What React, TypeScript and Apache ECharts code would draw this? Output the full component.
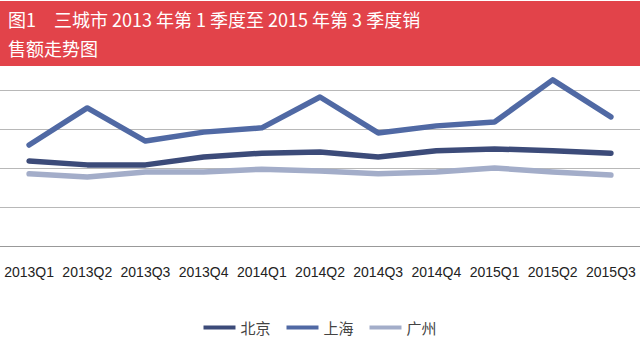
import React, { useEffect, useRef } from "react";
import * as echarts from "echarts";

const categories = ["2013Q1", "2013Q2", "2013Q3", "2013Q4", "2014Q1", "2014Q2", "2014Q3", "2014Q4", "2015Q1", "2015Q2", "2015Q3"];
const beijing = [2.18, 2.08, 2.08, 2.28, 2.38, 2.41, 2.28, 2.44, 2.49, 2.44, 2.38];
const shanghai = [2.59, 3.54, 2.69, 2.92, 3.03, 3.82, 2.9, 3.08, 3.18, 4.26, 3.31];
const guangzhou = [1.85, 1.77, 1.9, 1.9, 1.97, 1.92, 1.85, 1.9, 2.0, 1.9, 1.82];
const seriesNames = ["北京", "上海", "广州"];
const titleLine1 = "图1　三城市 2013 年第 1 季度至 2015 年第 3 季度销";
const titleLine2 = "售额走势图";

const colors = ["#3c4b79", "#5069a4", "#a3adc9"];

export default function App() {
  const ref = useRef<HTMLDivElement>(null);
  useEffect(() => {
    const chart = echarts.init(ref.current!, null, { renderer: "svg" });
    const data = [beijing, shanghai, guangzhou];
    chart.setOption({
      animation: false,
      backgroundColor: "#ffffff",
      grid: { left: 0, right: 0, top: 51, bottom: 108, containLabel: false },
      legend: {
        bottom: 14,
        left: "center",
        icon: "rect",
        itemWidth: 32,
        itemHeight: 4,
        itemGap: 16,
        textStyle: { fontSize: 15, color: "#444", fontFamily: "Noto Sans CJK SC" },
        data: seriesNames,
      },
      xAxis: {
        type: "category",
        data: categories,
        boundaryGap: true,
        axisTick: { show: false },
        axisLine: { lineStyle: { color: "#999", width: 1 } },
        axisLabel: { fontSize: 14, color: "#222", fontFamily: "Liberation Sans", margin: 19, interval: 0 },
      },
      yAxis: {
        type: "value",
        min: 0,
        max: 5,
        interval: 1,
        axisLabel: { show: false },
        axisLine: { show: false },
        axisTick: { show: false },
        splitLine: { lineStyle: { color: "#b8b8b8", width: 1 } },
      },
      series: seriesNames.map((n, i) => ({
        name: n,
        type: "line",
        data: data[i],
        showSymbol: false,
        symbol: "none",
        clip: false,
        lineStyle: { width: 5.5, color: colors[i], cap: "round", join: "round" },
        itemStyle: { color: colors[i] },
        z: 3 - i,
      })),
      graphic: [
        {
          type: "rect",
          z: 100,
          shape: { x: 0, y: 1, width: 640, height: 65 },
          style: { fill: "#e2434a" },
        },
        {
          type: "text",
          z: 101,
          x: 8,
          y: 19,
          style: {
            text: titleLine1,
            fill: "#ffffff",
            fontSize: 18,
            fontFamily: "Noto Sans CJK SC",
            verticalAlign: "middle",
          },
        },
        {
          type: "text",
          z: 101,
          x: 8,
          y: 48,
          style: {
            text: titleLine2,
            fill: "#ffffff",
            fontSize: 18,
            fontFamily: "Noto Sans CJK SC",
            verticalAlign: "middle",
          },
        },
      ],
    });
    return () => chart.dispose();
  }, []);
  return <div ref={ref} style={{ width: 640, height: 354, position: "absolute", left: 0, top: 0 }} />;
}
